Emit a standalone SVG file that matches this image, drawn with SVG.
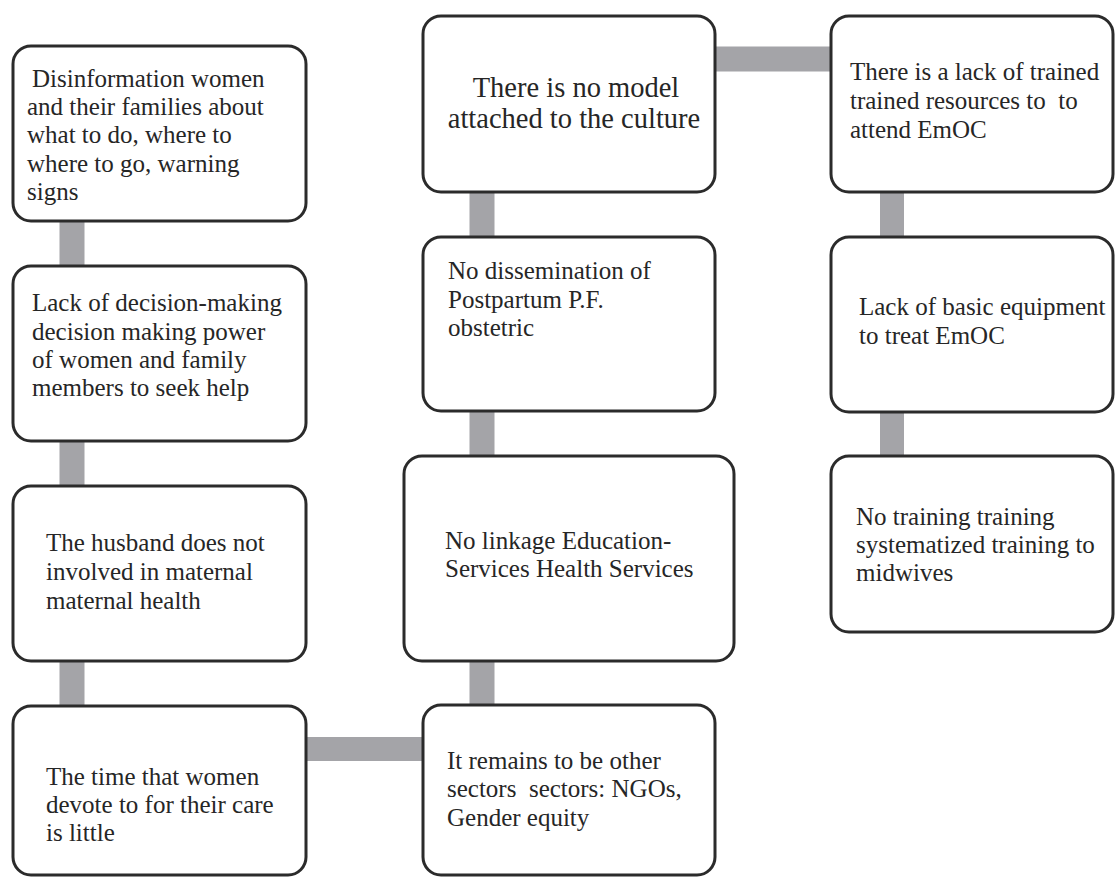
<svg xmlns="http://www.w3.org/2000/svg" width="1116" height="877" viewBox="0 0 1116 877">
  <style>
    .box { fill: #ffffff; stroke: #2b2b2b; stroke-width: 3; }
    .link { stroke: #a4a4a8; fill: none; }
    .lbl { font-family: "Liberation Serif", "Noto Serif", "DejaVu Serif", "Times New Roman", Times, serif; font-size: 25px; fill: #262626; }
    .big { font-size: 28.5px; }
  </style>
  <rect x="0" y="0" width="1116" height="877" fill="#ffffff"/>

  <!-- grey bars joining the boxes -->
  <g id="connectors" class="link">
    <line x1="72" y1="221" x2="72" y2="266" stroke-width="25"/>
    <line x1="72" y1="441" x2="72" y2="486" stroke-width="25"/>
    <line x1="72" y1="661" x2="72" y2="706" stroke-width="25"/>
    <line x1="306" y1="749" x2="423" y2="749" stroke-width="24"/>
    <line x1="482" y1="661" x2="482" y2="705" stroke-width="25"/>
    <line x1="482" y1="411" x2="482" y2="456" stroke-width="25"/>
    <line x1="482" y1="192" x2="482" y2="237" stroke-width="25"/>
    <line x1="715" y1="59" x2="831" y2="59" stroke-width="25"/>
    <line x1="892" y1="192" x2="892" y2="237" stroke-width="24"/>
    <line x1="892" y1="412" x2="892" y2="456" stroke-width="24"/>
  </g>

  <!-- left column -->
  <g id="n1">
    <rect class="box" x="13" y="46" width="293" height="175" rx="18"/>
    <text class="lbl" x="32" y="87">Disinformation women</text>
    <text class="lbl" x="27" y="115">and their families about</text>
    <text class="lbl" x="27" y="143">what to do, where to</text>
    <text class="lbl" x="27" y="172">where to go, warning</text>
    <text class="lbl" x="27" y="200">signs</text>
  </g>
  <g id="n2">
    <rect class="box" x="13" y="266" width="293" height="175" rx="18"/>
    <text class="lbl" x="32" y="311">Lack of decision-making</text>
    <text class="lbl" x="32" y="340">decision making power</text>
    <text class="lbl" x="32" y="368">of women and family</text>
    <text class="lbl" x="32" y="396">members to seek help</text>
  </g>
  <g id="n3">
    <rect class="box" x="13" y="486" width="293" height="175" rx="18"/>
    <text class="lbl" x="46" y="551">The husband does not</text>
    <text class="lbl" x="46" y="580">involved in maternal</text>
    <text class="lbl" x="46" y="609">maternal health</text>
  </g>
  <g id="n4">
    <rect class="box" x="13" y="706" width="293" height="169" rx="18"/>
    <text class="lbl" x="46" y="785">The time that women</text>
    <text class="lbl" x="46" y="813">devote to for their care</text>
    <text class="lbl" x="46" y="841">is little</text>
  </g>

  <!-- middle column -->
  <g id="n5">
    <rect class="box" x="423" y="16" width="292" height="176" rx="18"/>
    <text class="lbl big" x="576" y="97" text-anchor="middle">There is no model</text>
    <text class="lbl big" x="574" y="128" text-anchor="middle">attached to the culture</text>
  </g>
  <g id="n6">
    <rect class="box" x="423" y="237" width="292" height="174" rx="18"/>
    <text class="lbl" x="448" y="279">No dissemination of</text>
    <text class="lbl" x="448" y="308">Postpartum P.F.</text>
    <text class="lbl" x="448" y="336">obstetric</text>
  </g>
  <g id="n7">
    <rect class="box" x="404" y="456" width="330" height="205" rx="18"/>
    <text class="lbl" x="445" y="549">No linkage Education-</text>
    <text class="lbl" x="445" y="577">Services Health Services</text>
  </g>
  <g id="n8">
    <rect class="box" x="423" y="705" width="292" height="170" rx="18"/>
    <text class="lbl" x="447" y="769">It remains to be other</text>
    <text class="lbl" x="447" y="797" xml:space="preserve">sectors  sectors: NGOs,</text>
    <text class="lbl" x="447" y="826">Gender equity</text>
  </g>

  <!-- right column -->
  <g id="n9">
    <rect class="box" x="831" y="16" width="282" height="176" rx="18"/>
    <text class="lbl" x="850" y="80">There is a lack of trained</text>
    <text class="lbl" x="850" y="109" xml:space="preserve">trained resources to  to</text>
    <text class="lbl" x="850" y="138">attend EmOC</text>
  </g>
  <g id="n10">
    <rect class="box" x="831" y="237" width="282" height="175" rx="18"/>
    <text class="lbl" x="859" y="315">Lack of basic equipment</text>
    <text class="lbl" x="859" y="344">to treat EmOC</text>
  </g>
  <g id="n11">
    <rect class="box" x="831" y="456" width="282" height="176" rx="18"/>
    <text class="lbl" x="856" y="525">No training training</text>
    <text class="lbl" x="856" y="553">systematized training to</text>
    <text class="lbl" x="856" y="581">midwives</text>
  </g>
</svg>
